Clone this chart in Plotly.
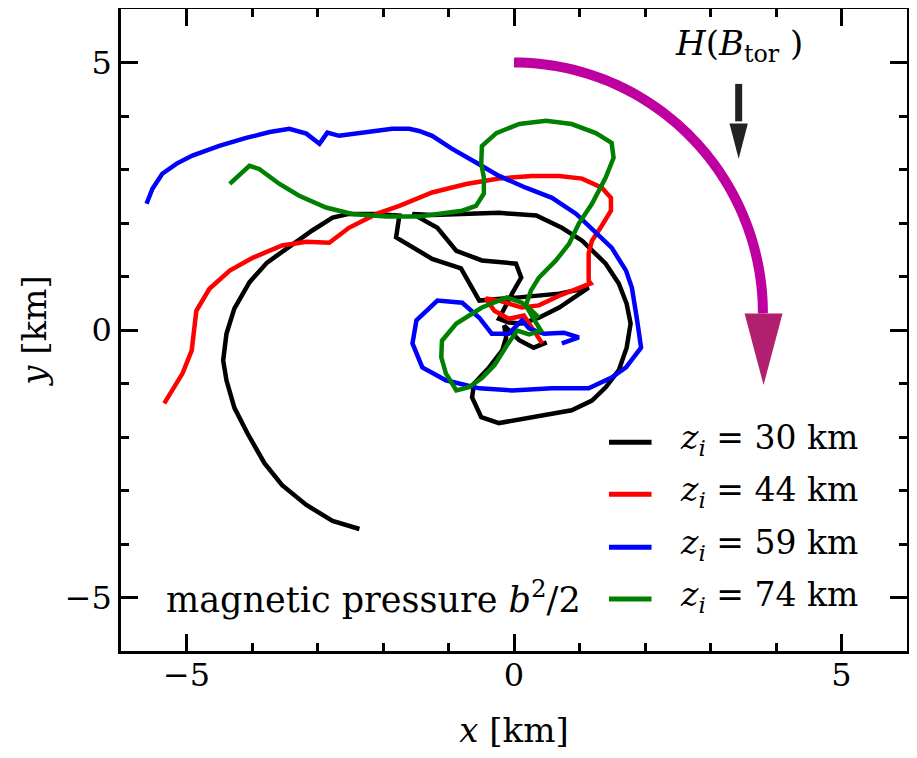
import numpy as np
import plotly.graph_objects as go

# ---------------- data (km) ----------------
z_values = [30, 44, 59, 74]
colors = ["#000000", "#ff0000", "#0000ff", "#008000"]

x_30 = [-2.36, -2.77, -3.17, -3.54, -3.81, -4.07, -4.27, -4.39, -4.44, -4.39, -4.27, -4.04,
        -3.77, -3.38, -3.08, -2.77, -2.52, -2.13, -1.75, -1.80, -1.25, -0.81, -0.53, 0.08,
        0.69, 1.14, 0.69, 0.38, 0.12, -0.08, -0.23, -0.03, 0.11, 0.03, -0.49, -0.88, -1.17,
        -1.55, -1.25, -0.23, 0.34, 0.73, 1.04, 1.40, 1.60, 1.72, 1.78, 1.72, 1.60, 1.40,
        1.19, 0.88, 0.27, -0.23, -0.50, -0.64, -0.61, -0.38, -0.18, -0.12, -0.15, 0.08,
        0.30, 0.50]
y_30 = [-3.72, -3.57, -3.27, -2.90, -2.49, -1.93, -1.45, -0.94, -0.57, -0.07, 0.40, 0.89,
        1.26, 1.61, 1.86, 2.10, 2.17, 2.17, 2.14, 1.73, 1.33, 1.15, 0.55, 0.61,
        0.68, 0.79, 0.42, 0.23, 0.12, 0.14, 0.21, 0.68, 0.98, 1.24, 1.30, 1.48, 1.91,
        2.17, 2.15, 2.19, 2.14, 1.91, 1.67, 1.24, 0.87, 0.49, 0.12, -0.33, -0.75, -1.07,
        -1.32, -1.50, -1.63, -1.74, -1.63, -1.26, -1.00, -0.70, -0.38, -0.14, 0.08, -0.19,
        -0.33, -0.23]

x_44 = [-5.34, -5.06, -4.92, -4.85, -4.65, -4.34, -3.99, -3.54, -3.17, -2.82, -2.52, -2.10,
        -1.75, -1.25, -0.73, -0.23, 0.27, 0.69, 1.04, 1.34, 1.48, 1.48, 1.34, 1.19, 1.14,
        1.14, 1.17, 0.69, 0.38, 0.12, -0.23, -0.43, -0.30, -0.08, 0.15, 0.30, 0.43]
y_44 = [-1.37, -0.81, -0.38, 0.36, 0.77, 1.11, 1.35, 1.58, 1.65, 1.63, 1.91, 2.17,
        2.32, 2.57, 2.73, 2.83, 2.88, 2.88, 2.83, 2.66, 2.47, 2.23, 1.95, 1.67, 1.43,
        0.92, 0.87, 0.64, 0.46, 0.42, 0.55, 0.59, 0.36, 0.21, 0.27, -0.01, -0.25]

x_59 = [-5.61, -5.52, -5.37, -5.15, -4.91, -4.50, -4.09, -3.73, -3.43, -3.17, -2.97, -2.85,
        -2.67, -2.26, -1.86, -1.60, -1.45, -1.25, -0.95, -0.58, -0.23, 0.18, 0.58, 0.95,
        1.19, 1.49, 1.71, 1.80, 1.88, 1.94, 1.71, 1.49, 1.14, 0.58, -0.03, -0.53, -1.04,
        -1.40, -1.55, -1.49, -1.17, -0.79, -0.53, -0.34, -0.08, 0.12, 0.23, 0.46, 0.76,
        0.99, 0.73]
y_59 = [2.36, 2.64, 2.92, 3.11, 3.26, 3.44, 3.59, 3.70, 3.76, 3.67, 3.48, 3.69,
        3.63, 3.70, 3.76, 3.76, 3.72, 3.63, 3.39, 3.13, 2.88, 2.66, 2.47, 2.17,
        1.89, 1.54, 1.11, 0.79, 0.18, -0.33, -0.70, -0.89, -1.09, -1.09, -1.13, -1.09, -0.94,
        -0.70, -0.25, 0.18, 0.55, 0.51, 0.23, -0.07, -0.07, 0.18, 0.03, -0.07, -0.05,
        -0.14, -0.25]

x_74 = [-4.34, -4.04, -3.89, -3.58, -3.28, -2.87, -2.47, -1.95, -1.45, -0.79, -0.58, -0.46,
        -0.46, -0.50, -0.49, -0.27, 0.08, 0.49, 0.88, 1.25, 1.49, 1.52, 1.40, 1.19, 0.99,
        0.84, 0.64, 0.38, 0.26, 0.18, 0.27, 0.41, 0.23, 0.05, -0.11, -0.30, -0.49, -0.69,
        -0.88, -1.04, -1.11, -1.10, -0.88, -0.49, -0.11, 0.12, 0.27, 0.38]
y_74 = [2.73, 3.07, 3.01, 2.73, 2.51, 2.29, 2.17, 2.12, 2.12, 2.23, 2.32, 2.55,
        2.85, 3.11, 3.44, 3.68, 3.85, 3.91, 3.85, 3.68, 3.50, 3.22, 2.85, 2.36, 1.99,
        1.61, 1.30, 0.98, 0.74, 0.46, 0.27, -0.01, -0.08, -0.01, -0.29, -0.66, -0.90, -1.07,
        -1.13, -0.81, -0.51, -0.20, 0.12, 0.42, 0.61, 0.51, 0.36, 0.23]

xs = [x_30, x_44, x_59, x_74]
ys = [y_30, y_44, y_59, y_74]

major_step = 5
minor_step = 1
axis_range = [-6, 6]

FONT = "DejaVu Serif"

fig = go.Figure()
for xv, yv, c, z in zip(xs, ys, colors, z_values):
    fig.add_trace(go.Scatter(x=xv, y=yv, mode="lines", name=f"z_i = {z} km",
                             line=dict(color=c, width=4.5), showlegend=False,
                             hoverinfo="skip"))
# empty traces so the extra tick-only axes (mirror / minor ticks) get drawn
for k in (2, 3, 4):
    fig.add_trace(go.Scatter(x=[None], y=[None], xaxis=f"x{k}", yaxis=f"y{k}", mode="lines",
                             showlegend=False, hoverinfo="skip"))

shapes = []
annotations = []

# manual legend
leg_y = [-2.10, -3.07, -4.06, -5.03]
for ly, c, z in zip(leg_y, colors, z_values):
    shapes.append(dict(type="line", xref="x", yref="y", x0=1.45, x1=2.10, y0=ly, y1=ly,
                       line=dict(color=c, width=5)))
    annotations.append(dict(x=2.50, y=ly + 0.05, xref="x", yref="y", xanchor="left",
                            yanchor="middle", showarrow=False,
                            text=f"<i>z<sub>i</sub></i> = {z} km",
                            font=dict(family=FONT, size=33, color="black")))

# magenta rotation arrow (quarter arc + head)
t = np.linspace(0, np.pi / 2, 60)
cx, cy, rx, ry = 0.0, 0.31, 3.80, 4.69
ax_ = cx + rx * np.sin(t)
ay_ = cy + ry * np.cos(t)
path = "M " + " L ".join(f"{a:.4f},{b:.4f}" for a, b in zip(ax_, ay_))
shapes.append(dict(type="path", xref="x", yref="y", path=path,
                   line=dict(color="#bf00a0", width=10), layer="above"))
shapes.append(dict(type="path", xref="x", yref="y",
                   path="M 3.52,0.31 L 4.10,0.31 L 3.81,-1.03 Z",
                   fillcolor="#b0206e", line=dict(width=0), layer="above"))

# black arrow
shapes.append(dict(type="line", xref="x", yref="y", x0=3.43, x1=3.43, y0=4.60, y1=3.90,
                   line=dict(color="#222222", width=7)))
shapes.append(dict(type="path", xref="x", yref="y",
                   path="M 3.29,3.86 L 3.57,3.86 L 3.43,3.20 Z",
                   fillcolor="#222222", line=dict(width=0)))

annotations.append(dict(x=3.43, y=5.32, xref="x", yref="y", showarrow=False,
                        xanchor="center", yanchor="middle",
                        text="<i>H</i>(<i>B</i><sub>tor</sub> )",
                        font=dict(family=FONT, size=34, color="black")))
annotations.append(dict(x=-5.34, y=-4.99, xref="x", yref="y", showarrow=False,
                        xanchor="left", yanchor="middle",
                        text="magnetic pressure <i>b</i><sup>2</sup>/2",
                        font=dict(family=FONT, size=35, color="black")))


def tick_axis(step, length, **kw):
    d = dict(range=axis_range, showgrid=False, zeroline=False, ticks="inside",
             tickmode="linear", tick0=0, dtick=step, ticklen=length, tickwidth=2.5,
             tickcolor="black", automargin=False, layer="above traces")
    d.update(kw)
    return d


main_kw = dict(showline=True, linecolor="black", linewidth=2.5, mirror=True,
               tickfont=dict(family=FONT, size=32, color="black"))
extra_kw = dict(showline=False, showticklabels=False)

fig.update_layout(
    width=901, height=742,
    margin=dict(l=113, r=2, t=1, b=99),
    paper_bgcolor="white", plot_bgcolor="white",
    xaxis=tick_axis(major_step, 17, **main_kw, ticklabelstandoff=-6,
                    title=dict(text="<i>x</i> [km]",
                               font=dict(family=FONT, size=34, color="black"), standoff=35)),
    yaxis=tick_axis(major_step, 17, **main_kw,
                    title=dict(text="<i>y</i> [km]",
                               font=dict(family=FONT, size=34, color="black"), standoff=8)),
    xaxis2=tick_axis(major_step, 17, **extra_kw, overlaying="x", side="top", anchor="y2"),
    yaxis2=tick_axis(major_step, 17, **extra_kw, overlaying="y", side="right", anchor="x2"),
    xaxis3=tick_axis(minor_step, 8, **extra_kw, overlaying="x", side="bottom", anchor="y3"),
    yaxis3=tick_axis(minor_step, 8, **extra_kw, overlaying="y", side="left", anchor="x3"),
    xaxis4=tick_axis(minor_step, 8, **extra_kw, overlaying="x", side="top", anchor="y4"),
    yaxis4=tick_axis(minor_step, 8, **extra_kw, overlaying="y", side="right", anchor="x4"),
    shapes=shapes, annotations=annotations, showlegend=False,
)

fig.write_html("out.html")
